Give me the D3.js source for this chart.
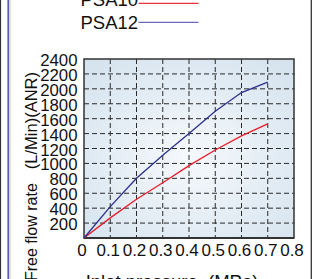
<!DOCTYPE html>
<html><head><meta charset="utf-8">
<script src="https://cdn.jsdelivr.net/npm/d3@7"></script>
<style>
html,body{margin:0;padding:0;background:#fff;}
svg{display:block;}
text{font-family:"Liberation Sans Narrow","Arial Narrow","Liberation Sans",Arial,sans-serif;fill:#111;}
</style></head>
<body>
<svg id="c" width="323" height="279"></svg>
<script>
const pressure = [0, 0.1, 0.2, 0.3, 0.4, 0.5, 0.6, 0.7];
const psa10 = [0, 270, 520, 740, 970, 1180, 1370, 1530];
const psa12 = [0, 420, 800, 1110, 1400, 1700, 1950, 2090];
const seriesNames = ["PSA10", "PSA12"];
const xTicks = [0, 0.1, 0.2, 0.3, 0.4, 0.5, 0.6, 0.7, 0.8];
const yTicks = [200, 400, 600, 800, 1000, 1200, 1400, 1600, 1800, 2000, 2200, 2400];
const yTitleParts = ["Free flow rate", "(L/Min)(ANR)"];
const xTitle = "Inlet pressure  (MPa)";

const svg = d3.select("#c");
const L = 84, R = 294, T = 59, B = 238;
const x = d3.scaleLinear().domain([0, 0.8]).range([L, R]);
const y = d3.scaleLinear().domain([0, 2400]).range([B, T]);

// side frame lines
svg.append("line").attr("x1",0.5).attr("x2",0.5).attr("y1",0).attr("y2",279).attr("stroke","#333").attr("stroke-width",1.2);
svg.append("line").attr("x1",8.2).attr("x2",8.2).attr("y1",0).attr("y2",279).attr("stroke","#5b5bb0").attr("stroke-width",1.6);
svg.append("line").attr("x1",9.9).attr("x2",9.9).attr("y1",0).attr("y2",279).attr("stroke","#999").attr("stroke-width",0.7);
svg.append("line").attr("x1",311.3).attr("x2",311.3).attr("y1",0).attr("y2",279).attr("stroke","#333").attr("stroke-width",1.3);

// background gradient
const defs = svg.append("defs");
const rg = defs.append("radialGradient").attr("id","bg").attr("cx","50%").attr("cy","55%").attr("r","70%");
rg.append("stop").attr("offset","0%").attr("stop-color","#f6f9fc");
rg.append("stop").attr("offset","100%").attr("stop-color","#d5e3ee");
svg.append("rect").attr("x",L).attr("y",T).attr("width",R-L).attr("height",B-T).attr("fill","url(#bg)");

// grid
const g = svg.append("g");
g.selectAll(".vg").data(xTicks.slice(1,-1)).join("line")
  .attr("x1",d=>x(d)).attr("x2",d=>x(d)).attr("y1",T).attr("y2",B)
  .attr("stroke","#2a2a2a").attr("stroke-width",1).attr("stroke-dasharray","5,3");
g.selectAll(".hg").data(yTicks.slice(0,-1)).join("line")
  .attr("x1",L).attr("x2",R).attr("y1",d=>y(d)).attr("y2",d=>y(d))
  .attr("stroke","#2a2a2a").attr("stroke-width",1).attr("stroke-dasharray","5,3");

// border
svg.append("rect").attr("x",L).attr("y",T).attr("width",R-L).attr("height",B-T)
  .attr("fill","none").attr("stroke","#333").attr("stroke-width",1.5);
svg.append("line").attr("x1",L).attr("x2",R).attr("y1",B).attr("y2",B).attr("stroke","#333").attr("stroke-width",2);

// axes via d3
const xAxis = d3.axisBottom(x).tickValues(xTicks).tickSize(0).tickPadding(0).tickFormat(d=>d===0?"0":d3.format(".1f")(d));
const xg = svg.append("g").attr("transform",`translate(-2.5,${B})`).call(xAxis);
xg.select(".domain").remove();
xg.selectAll("text").attr("dy",null).attr("y",18).attr("font-size","17px").attr("font-family",null).attr("fill","#111");

const yAxis = d3.axisLeft(y).tickValues(yTicks).tickSize(0).tickPadding(0).tickFormat(d3.format("d"));
const yg = svg.append("g").attr("transform",`translate(${L-6.5},0.5)`).call(yAxis);
yg.select(".domain").remove();
yg.selectAll("text").attr("font-size","16.8px").attr("font-family",null).attr("fill","#111").attr("dy","0.36em");

// lines
const line = d3.line().x((d,i)=>x(pressure[i])).y(d=>y(d));
svg.append("path").datum(psa10).attr("d",line).attr("fill","none").attr("stroke","#ec1c2a").attr("stroke-width",1.3);
svg.append("path").datum(psa12).attr("d",line).attr("fill","none").attr("stroke","#2b2f8f").attr("stroke-width",1.3);

// legend
const legColors = ["#e8323c","#6a6ab6"];
const leg = svg.append("g");
seriesNames.forEach((n,i)=>{
  leg.append("text").attr("x",80.5).attr("y",6.3+i*22.3).attr("font-size","18.5px").text(n);
  leg.append("line").attr("x1",138.5).attr("x2",198.5).attr("y1",3.3+i*19).attr("y2",3.3+i*19)
    .attr("stroke",legColors[i]).attr("stroke-width",1.3);
});

// axis titles
svg.append("text").attr("transform","translate(36.5,281) rotate(-90)").attr("font-size","16px")
  .text(yTitleParts[0]);
svg.append("text").attr("transform","translate(36.5,72) rotate(-90)").attr("font-size","16.5px")
  .attr("text-anchor","end").text(yTitleParts[1]);
svg.append("text").attr("x",172).attr("y",288).attr("text-anchor","middle").attr("font-size","18.5px")
  .style("white-space","pre").text(xTitle);
</script>
</body></html>
